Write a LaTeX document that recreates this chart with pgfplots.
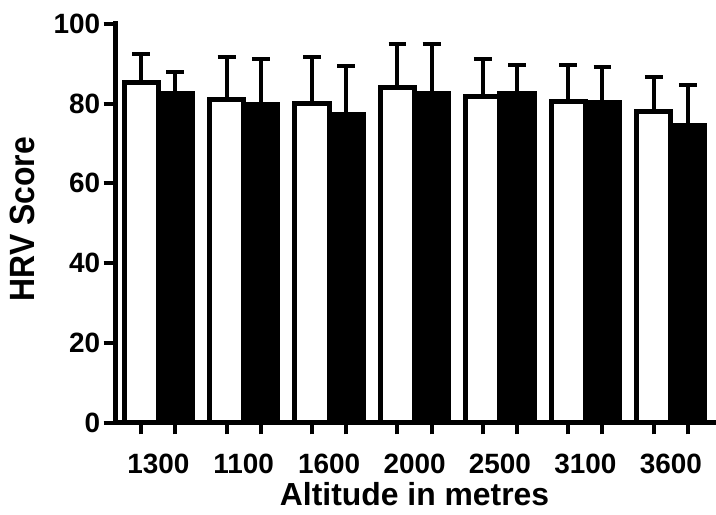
\documentclass[border=0pt]{standalone}
\usepackage{fontspec}
\setmainfont{Liberation Sans}
\usepackage{pgfplots}
\pgfplotsset{compat=1.18}

\begin{document}
\begin{tikzpicture}
\begin{axis}[
  scale only axis, width=600pt, height=400pt,
  xmin=-0.5, xmax=6.5, ymin=0, ymax=100,
  axis x line*=bottom, axis y line*=left,
  axis line style={line width=5pt, line cap=rect},
  axis on top,
  tick align=outside, major tick length=12pt,
  tick style={line width=4pt, black},
  ytick={0,20,...,100},
  xtick={-0.2,0.2,0.8,1.2,1.8,2.2,2.8,3.2,3.8,4.2,4.8,5.2,5.8,6.2},
  xticklabels={},
  extra x ticks={0,1,2,3,4,5,6},
  extra x tick labels={1300,1100,1600,2000,2500,3100,3600},
  extra x tick style={tick style={draw=none}, xticklabel style={yshift=-16pt}},
  /pgf/number format/assume math mode=true,
  tick label style={font=\fontsize{28}{32}\selectfont\bfseries},
  xlabel={Altitude in metres}, ylabel={HRV Score},
  label style={font=\fontsize{32}{36}\selectfont\bfseries},
  xlabel style={at={(axis description cs:0.5,-0.18)}, anchor=center},
  ylabel style={at={(axis description cs:-0.155,0.51)}, anchor=center, yscale=1.1},
  clip=false,
]
\addplot[ybar, bar width=0.4, bar shift=0pt, fill=white, draw=black, line width=5pt,
  error bars/.cd, y dir=plus, y explicit,
  error bar style={line width=4pt, black},
  error mark options={rotate=90, mark size=9pt, line width=4pt, black}]
  coordinates {
  (-0.2,85.4) +- (0,7.1)
  (0.8,81.0) +- (0,10.7)
  (1.8,80.0) +- (0,11.7)
  (2.8,84.1) +- (0,10.9)
  (3.8,81.8) +- (0,9.3)
  (4.8,80.6) +- (0,9.1)
  (5.8,78.1) +- (0,8.65)
  };
\addplot[ybar, bar width=0.4, bar shift=0pt, fill=black, draw=black, line width=5pt,
  error bars/.cd, y dir=plus, y explicit,
  error bar style={line width=4pt, black},
  error mark options={rotate=90, mark size=9pt, line width=4pt, black}]
  coordinates {
  (0.2,82.65) +- (0,5.35)
  (1.2,79.7) +- (0,11.4)
  (2.2,77.2) +- (0,12.2)
  (3.2,82.65) +- (0,12.35)
  (4.2,82.5) +- (0,7.2)
  (5.2,80.4) +- (0,8.8)
  (6.2,74.6) +- (0,10.1)
  };
\coordinate (bl) at (rel axis cs:0,0);
\end{axis}
\path (bl) ++(-116pt,-92pt) rectangle ++(716pt,516pt);
\end{tikzpicture}
\end{document}
